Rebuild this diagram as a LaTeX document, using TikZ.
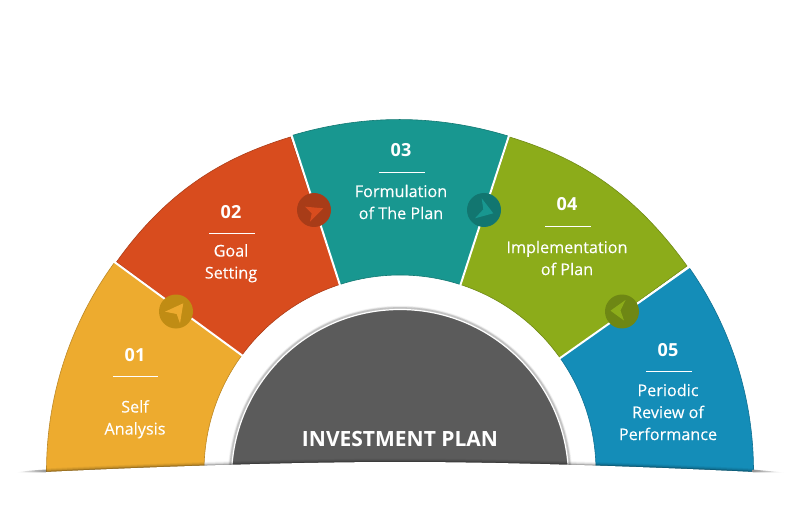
\documentclass[tikz,border=0pt]{standalone}
\usepackage{fontspec}
\setmainfont{Open Sans}
\newfontfamily\medfont{Open Sans}[FakeBold=0.2]
\usetikzlibrary{calc}
\definecolor{cy}{HTML}{EDAB2F}\definecolor{cr}{HTML}{D84C1E}\definecolor{ct}{HTML}{189790}
\definecolor{cg}{HTML}{8CAC1A}\definecolor{cb}{HTML}{148DB8}\definecolor{cc}{HTML}{5B5B5B}
\definecolor{dy}{HTML}{C08C14}\definecolor{dr}{HTML}{A83C18}\definecolor{dt}{HTML}{127670}
\definecolor{dg}{HTML}{6E8714}
\tikzset{
  lbl/.style={text=white,font=\medfont\fontsize{16.2}{22}\selectfont,align=center,inner sep=0pt},
  num/.style={text=white,font=\fontsize{18}{22}\selectfont\bfseries,inner sep=0pt},
  rule/.style={draw=white,line width=0.9pt},
  seam/.style={draw=white,line width=2pt},
  badge/.style={circle,minimum size=34pt,inner sep=0pt},
  title/.style={text=white,font=\fontsize{21}{24}\selectfont\bfseries,inner sep=0pt},
  segy/.style={fill=cy,draw=cy!80!black,line width=0.6pt},
  segr/.style={fill=cr,draw=cr!80!black,line width=0.6pt},
  segt/.style={fill=ct,draw=ct!80!black,line width=0.6pt},
  segg/.style={fill=cg,draw=cg!80!black,line width=0.6pt},
  segb/.style={fill=cb,draw=cb!80!black,line width=0.6pt},
}
\newcommand{\basecurve}{(46,-472) .. controls (170,-466) and (300,-462) .. (400,-462)
  .. controls (500,-462) and (630,-466) .. (753,-472)}
\begin{document}
\begin{tikzpicture}[x=1pt,y=1pt]
\useasboundingbox (0,0) rectangle (800,-529);
\fill[white] (0,0) rectangle (800,-529);
\begin{scope}[shift={(400,-471)}]
  \coordinate (i1) at (143.8:196);
  \coordinate (i2) at (107.9:196);
  \coordinate (i3) at (72:196);
  \coordinate (i4) at (35.2:196);
  \coordinate (o0) at (185:353.5);
  \coordinate (o5) at (-5:353.5);
  \coordinate (s1a) at (143.8:190); \coordinate (s1b) at (143.8:360);
  \coordinate (s2a) at (107.9:190); \coordinate (s2b) at (107.9:360);
  \coordinate (s3a) at (72:190);    \coordinate (s3b) at (72:360);
  \coordinate (s4a) at (35.2:190);  \coordinate (s4b) at (35.2:360);
\end{scope}
\path[segy] (o0) arc (185:143.8:353.5) -- (i1) arc (143.8:185:196) -- cycle;
\path[segr] (116.5,-262) .. controls (172,-184) and (232,-155) .. (290.5,-137)
  -- (i2) arc (107.9:143.8:196) -- cycle;
\path[segt] (292,-135.5) .. controls (364.4,-114) and (436,-114.3) .. (508,-136)
  -- (i3) arc (72:107.9:196) -- cycle;
\path[segg] (509.5,-137) .. controls (568,-155) and (628,-184) .. (687,-266)
  -- (i4) arc (35.2:72:196) -- cycle;
\path[segb] (o5) arc (-5:35.2:353.5) -- (i4) arc (35.2:-5:196) -- cycle;
\draw[seam] (s1a) -- (s1b);
\draw[seam] (s2a) -- (s2b);
\draw[seam] (s3a) -- (s3b);
\draw[seam] (s4a) -- (s4b);
% centre half disc
\begin{scope}[shift={(400,-478)}]
  \foreach \w/\o in {5.5/.05,4/.08,2.8/.12}{\draw[black,opacity=\o,line width=\w pt] (0,0) circle (169.5);}
  \fill[cc] (0,0) circle (168.5);
  \draw[white,line width=1.2pt] (0,0) circle (168.5);
\end{scope}
% base
\begin{scope}
  \clip (0,-400) rectangle (800,-529);
  \foreach \w/\o in {7/.05,5/.08,3/.12,1.5/.18}{\draw[black,opacity=\o,line width=\w pt] \basecurve;}
\end{scope}
\fill[white] \basecurve -- (800,-472) -- (800,-529) -- (0,-529) -- (0,-472) -- cycle;
\shade[left color=white,right color=gray!85] (16,-472.5) .. controls (30,-470.5) .. (46.5,-469.5) -- (46.5,-472.4) -- cycle;
\shade[left color=gray!85,right color=white] (752.5,-469.5) .. controls (768,-470.5) .. (784,-472.5) -- (752.5,-472.4) -- cycle;
% badges
\node[badge,fill=dy] (b1) at (176,-311.5) {};
\node[badge,fill=dr] (b2) at (314,-210) {};
\node[badge,fill=dt] (b3) at (484,-210) {};
\node[badge,fill=dg] (b4) at (622,-311.5) {};
\fill[cy] (165,-311.7) -- (183.3,-303.3) -- (180,-323.3) -- (176.7,-314) -- cycle;
\fill[cr] (305,-206.7) -- (323.3,-208.3) -- (310,-221.7) -- (311.7,-213.3) -- cycle;
\fill[ct] (481.7,-198.3) -- (493.3,-213.3) -- (475,-218.3) -- (483.3,-209.3) -- cycle;
\fill[cg] (625.5,-300) -- (610.5,-310.7) -- (624,-320.5) -- (620.5,-310.5) -- cycle;
% labels
\node[num] (n1) at (135,-355.5) {01};
\node[lbl] (t1) at (135,-419.3) {Self\\Analysis};
\coordinate (r1a) at (113,-376); \coordinate (r1b) at (158,-376);
\draw[rule] (r1a) -- (r1b);
\node[num] (n2) at (231,-212.5) {02};
\node[lbl] (t2) at (231,-263.3) {Goal\\Setting};
\coordinate (r2a) at (209,-233); \coordinate (r2b) at (255,-233);
\draw[rule] (r2a) -- (r2b);
\node[num] (n3) at (401,-150.5) {03};
\node[lbl] (t3) at (401,-202) {Formulation\\of The Plan};
\coordinate (r3a) at (379,-172); \coordinate (r3b) at (425,-172);
\draw[rule] (r3a) -- (r3b);
\node[num] (n4) at (567,-204.5) {04};
\node[lbl] (t4) at (567,-258) {Implementation\\of Plan};
\coordinate (r4a) at (545,-226); \coordinate (r4b) at (591,-226);
\draw[rule] (r4a) -- (r4b);
\node[num] (n5) at (668,-350.5) {05};
\node[lbl] (t5) at (668,-412) {Periodic\\Review of\\Performance};
\coordinate (r5a) at (646,-371); \coordinate (r5b) at (692,-371);
\draw[rule] (r5a) -- (r5b);
\node[title] (main) at (400,-438.5) {INVESTMENT PLAN};
\end{tikzpicture}
\end{document}
